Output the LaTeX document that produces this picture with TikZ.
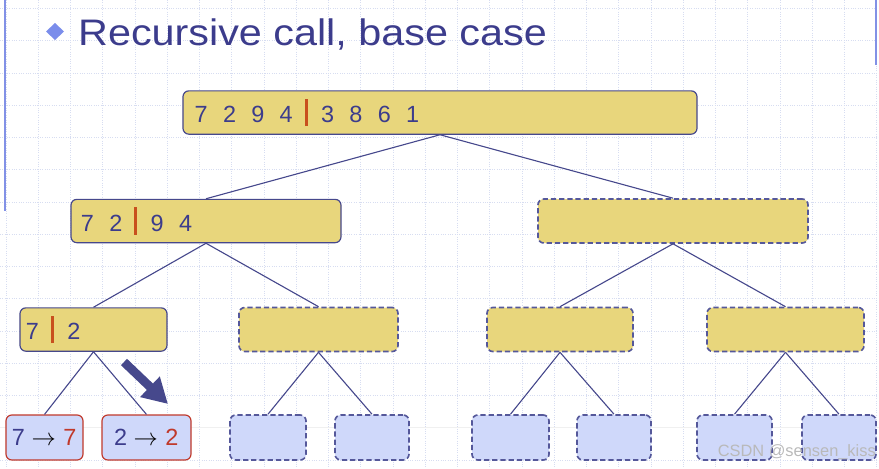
\documentclass[tikz,border=0pt]{standalone}
\usepackage{fontspec}
\setmainfont{Liberation Sans}
\newfontfamily\titlefont[FakeStretch=1.12]{Liberation Sans}
\usetikzlibrary{arrows.meta}

\definecolor{boxyellow}{HTML}{E8D67C}
\definecolor{boxblue}{HTML}{CFD8FA}
\definecolor{edgenavy}{HTML}{46488C}
\definecolor{dashnavy}{HTML}{55589A}
\definecolor{textnavy}{HTML}{3C3C8C}
\definecolor{splitred}{HTML}{C8501E}
\definecolor{basered}{HTML}{C0392B}
\definecolor{gridblue}{HTML}{D7DDF1}
\definecolor{sideblue}{HTML}{8291E6}
\definecolor{bulletblue}{HTML}{7B8DEB}

\newcommand{\gap}{\hspace{0.46cm}}
\newcommand{\splitbar}{\hspace{0.36cm}\textcolor{splitred}{\rule[-0.1cm]{0.09cm}{0.82cm}}\hspace{0.4cm}}
\newcommand{\maps}[1]{\mbox{#1\hspace{0.2cm}\textcolor{black}{$\rightarrow$}\hspace{0.22cm}\textcolor{basered}{#1}}}

\begin{document}
\begin{tikzpicture}[x=0.03cm,y=-0.03cm,
    gridline/.style={gridblue,line width=0.5pt,dash pattern=on 0.8pt off 1.2pt},
    seqbox/.style={draw=edgenavy,line width=1pt,rounded corners=5pt,fill=boxyellow,
        minimum height=1.3cm,align=left,text=textnavy,font=\fontsize{20}{24}\selectfont},
    openbox/.style={draw=dashnavy,line width=1.4pt,dash pattern=on 4.5pt off 2.5pt,
        rounded corners=5pt,minimum height=1.32cm},
    basebox/.style={draw=basered,line width=1pt,rounded corners=5pt,fill=boxblue,
        minimum height=1.35cm,align=left,text=textnavy,font=\fontsize{20}{24}\selectfont},
    link/.style={edgenavy,line width=0.95pt},
    hint/.style={edgenavy,line width=7.5pt,-{Triangle[length=0.75cm,width=0.8cm]}}
]

% Canvas
\useasboundingbox (0,0) rectangle (879,468);

% Dotted grid
\foreach \x in {6,38.25,...,879}
    \draw[gridline] (\x,0) -- (\x,468);
\foreach \y in {8.5,40.75,...,468}
    \draw[gridline] (0,\y) -- (879,\y);
\draw[gray!12,line width=0.6pt] (0,427) -- (879,427);

% Side rules
\draw[sideblue,line width=2.4pt] (5,0) -- (5,211);
\draw[sideblue,line width=2.4pt] (876,0) -- (876,65);

% Title
\fill[bulletblue] (55,23) -- (64,31.5) -- (55,40) -- (46,31.5) -- cycle;
\node[anchor=base west,inner sep=0pt,text=textnavy,font=\titlefont\fontsize{31.5}{36}\selectfont]
    (title) at (78,45) {Recursive call, base case};

% Level 0
\node[seqbox,inner xsep=0.35cm,text width=14.72cm] (root) at (440,112.5)
    {7\gap 2\gap 9\gap 4\splitbar 3\gap 8\gap 6\gap 1};

% Level 1
\node[seqbox,inner xsep=0.3cm,text width=7.5cm] (left) at (206,221)
    {7\gap 2\splitbar 9\gap 4};
\node[openbox,fill=boxyellow,minimum width=8.1cm] (right) at (673,221) {};

% Level 2
\node[seqbox,inner xsep=0.18cm,text width=4.05cm] (ll) at (93.5,329.5)
    {7\splitbar 2};
\node[openbox,fill=boxyellow,minimum width=4.77cm] (lr) at (318.5,329.5) {};
\node[openbox,fill=boxyellow,minimum width=4.38cm] (rl) at (560,329.5) {};
\node[openbox,fill=boxyellow,minimum width=4.71cm] (rr) at (785.5,329.5) {};

% Level 3 (base cases)
\node[basebox,inner xsep=0.18cm,text width=1.95cm] (lll) at (44.5,437.5) {\maps{7}};
\node[basebox,inner xsep=0.36cm,text width=1.95cm] (llr) at (146.5,437.5) {\maps{2}};
\node[openbox,fill=boxblue,minimum height=1.35cm,minimum width=2.28cm] (lrl) at (268,437.5) {};
\node[openbox,fill=boxblue,minimum height=1.35cm,minimum width=2.22cm] (lrr) at (372,437.5) {};
\node[openbox,fill=boxblue,minimum height=1.35cm,minimum width=2.31cm] (rll) at (510.5,437.5) {};
\node[openbox,fill=boxblue,minimum height=1.35cm,minimum width=2.22cm] (rlr) at (614,437.5) {};
\node[openbox,fill=boxblue,minimum height=1.35cm,minimum width=2.25cm] (rrl) at (734.5,437.5) {};
\node[openbox,fill=boxblue,minimum height=1.35cm,minimum width=2.22cm] (rrr) at (839,437.5) {};

% Tree edges
\foreach \p/\c in {root/left,root/right,left/ll,left/lr,right/rl,right/rr,
                   ll/lll,ll/llr,lr/lrl,lr/lrr,rl/rll,rl/rlr,rr/rrl,rr/rrr}
    \draw[link] (\p.south) -- (\c.north);

% Step arrow
\coordinate (hintfrom) at (124,362);
\coordinate (hintto) at (168,404);
\draw[hint] (hintfrom) -- (hintto);

% Watermark
\node[anchor=east,inner sep=0pt,text=gray!55,font=\fontsize{14}{16}\selectfont]
    (mark) at (876,452) {CSDN @sensen\_kiss};

\end{tikzpicture}
\end{document}
